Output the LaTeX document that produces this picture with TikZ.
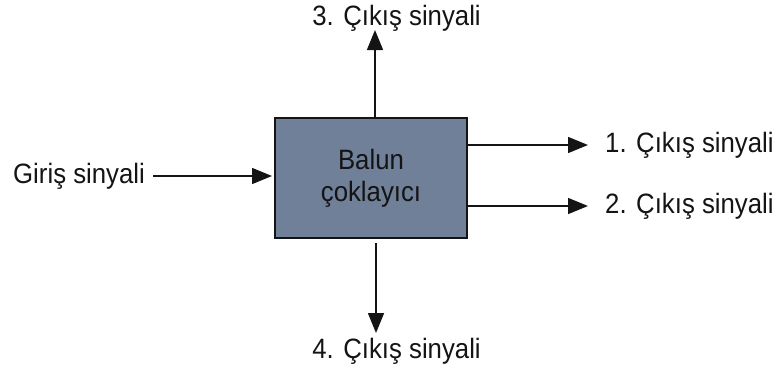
\documentclass[tikz,border=0pt]{standalone}
\usepackage{fontspec}
\setmainfont{Liberation Sans}[FakeStretch=0.92]
\usetikzlibrary{arrows.meta}
\definecolor{boxfill}{RGB}{112,128,153}
\definecolor{ink}{RGB}{20,20,20}
\begin{document}
\begin{tikzpicture}[x=1pt,y=-1pt,
  lbl/.style={font=\fontsize{28}{32}\selectfont, text=ink, inner sep=3pt},
  blockbox/.style={draw=ink, line width=2pt, fill=boxfill, minimum width=192pt,
    minimum height=120pt, align=center, font=\fontsize{28}{32}\selectfont, text=ink},
  arr/.style={draw=ink, line width=1.5pt, -{Triangle[length=20pt,width=16pt]}}]
\useasboundingbox (0,0) rectangle (777,372);

% central block
\node[blockbox] (bc) at (371,178) {Balun\\çoklayıcı};

% labels
\node[lbl, anchor=west] (in) at (10,176) {Giriş sinyali};
\node[lbl, anchor=west] (o1) at (602,145) {1. Çıkış sinyali};
\node[lbl, anchor=west] (o2) at (602,206) {2. Çıkış sinyali};
\node[lbl, anchor=base] (o3) at (396.5,25) {3. Çıkış sinyali};
\node[lbl, anchor=base] (o4) at (396.5,358) {4. Çıkış sinyali};

% arrow tips of the vertical outputs
\coordinate (t3) at (375,30);
\coordinate (t4) at (376,333);

% connectors
\draw[arr, shorten <=5pt, shorten >=2pt] (in.east) -- (in.east -| bc.west);
\draw[arr, shorten >=14pt] (o1.west -| bc.east) -- (o1.west);
\draw[arr, shorten >=14pt] (o2.west -| bc.east) -- (o2.west);
\draw[arr] (bc.north -| t3) -- (t3);
\draw[arr, shorten <=4pt] (bc.south -| t4) -- (t4);
\end{tikzpicture}
\end{document}
